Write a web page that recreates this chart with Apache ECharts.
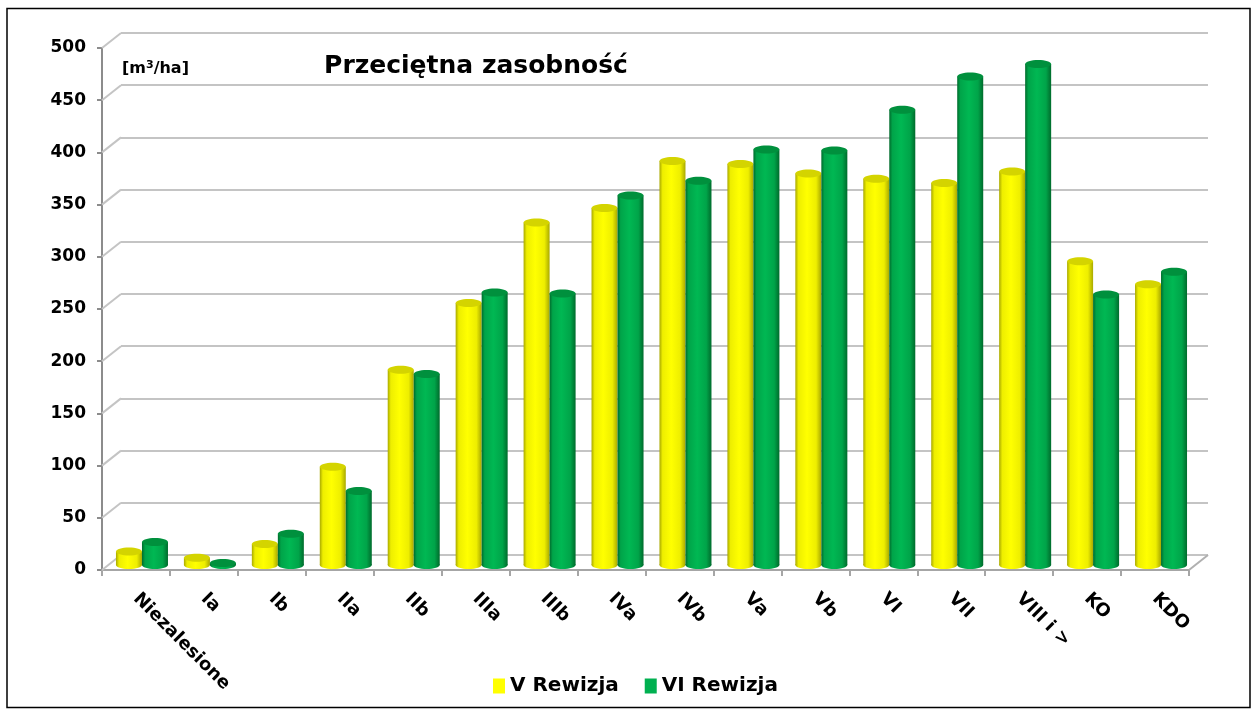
<!DOCTYPE html>
<html>
<head>
<meta charset="utf-8">
<script src="https://cdn.jsdelivr.net/npm/echarts@6/dist/echarts.min.js"></script>
<style>
  html, body { margin: 0; padding: 0; background: #fff; }
  #chart { width: 1256px; height: 717px; }
</style>
</head>
<body>
<div id="chart"></div>
<script>
// dane
const categories = ['Niezalesione', 'Ia', 'Ib', 'IIa', 'IIb', 'IIIa', 'IIIb', 'IVa', 'IVb', 'Va', 'Vb', 'VI', 'VII', 'VIII i >', 'KO', 'KDO']
const rewizjaV = [13, 7, 20, 94, 187, 251, 328, 342, 387, 384, 375, 370, 366, 377, 291, 269]
const rewizjaVI = [22, 2, 30, 71, 183, 261, 260, 354, 368, 398, 397, 436, 468, 480, 259, 281]
const yTicks = [0, 50, 100, 150, 200, 250, 300, 350, 400, 450, 500]

const FONT = 'DejaVu Sans'
// front plane of the 3D box
const front = { left: 102, top: 48, right: 1189, bottom: 570 }
// depth offset of the back wall
const depth = { dx: 19, dy: -15 }
// bars sit a bit inside the box
const barShift = { dx: 6, dy: -5 }
const barW = 26
const capH = 8

const chart = echarts.init(document.getElementById('chart'))

function gridAt(dx, dy) {
  return {
    left: front.left + dx,
    top: front.top + dy,
    width: front.right - front.left,
    height: front.bottom - front.top
  }
}

function cylinder(edge, mid, light) {
  return new echarts.graphic.LinearGradient(0, 0, 1, 0, [
    { offset: 0, color: edge },
    { offset: 0.12, color: mid },
    { offset: 0.45, color: light },
    { offset: 0.8, color: mid },
    { offset: 1, color: edge }
  ])
}

const yellowBody = cylinder('#a9a900', '#eeee00', '#ffff00')
const greenBody = cylinder('#006b2c', '#00a449', '#00b853')

function hiddenCat(gridIndex) {
  return {
    type: 'category', gridIndex, data: categories,
    axisLine: { show: false }, axisTick: { show: false }, axisLabel: { show: false }
  }
}
function hiddenVal(gridIndex, showSplit) {
  return {
    type: 'value', gridIndex, min: 0, max: 500, interval: 50,
    axisLine: { show: false }, axisTick: { show: false }, axisLabel: { show: false },
    splitLine: { show: showSplit, lineStyle: { color: '#c4c4c4', width: 2 } }
  }
}

// walec: korpus + dolna i górna elipsa
function cylinderSeries(name, values, side, body, topColor) {
  return {
    name, type: 'custom', xAxisIndex: 2, yAxisIndex: 2, z: 3,
    data: values.map((v, i) => [i, v]),
    renderItem(params, api) {
      const base = api.coord([api.value(0), 0])
      const top = api.coord([api.value(0), api.value(1)])
      const x = base[0] + (side < 0 ? -barW : 0)
      const rx = barW / 2, ry = capH / 2
      return {
        type: 'group',
        children: [
          {
            type: 'ellipse',
            shape: { cx: x + rx, cy: base[1], rx, ry },
            style: { fill: body }
          },
          {
            type: 'rect',
            shape: { x, y: top[1], width: barW, height: base[1] - top[1] },
            style: { fill: body }
          },
          {
            type: 'ellipse',
            shape: { cx: x + rx, cy: top[1], rx, ry },
            style: { fill: topColor }
          }
        ]
      }
    }
  }
}

const option = {
  animation: false,
  backgroundColor: '#fff',
  title: {
    text: 'Przeciętna zasobność',
    left: 471, top: 49, textAlign: 'center',
    textStyle: { fontFamily: FONT, fontSize: 25, fontWeight: 'bold', color: '#000' }
  },
  legend: {
    left: 488, top: 671,
    itemWidth: 12, itemHeight: 15, itemGap: 26,
    icon: 'rect',
    textStyle: { fontFamily: FONT, fontSize: 20, fontWeight: 'bold', color: '#000' },
    data: [
      { name: 'V Rewizja', itemStyle: { color: '#ffff00' } },
      { name: 'VI Rewizja', itemStyle: { color: '#00b050' } }
    ]
  },
  grid: [gridAt(0, 0), gridAt(depth.dx, depth.dy), gridAt(barShift.dx, barShift.dy)],
  xAxis: [
    {
      type: 'category', gridIndex: 0, data: categories,
      axisLine: { lineStyle: { color: '#a6a6a6', width: 2 } },
      axisTick: { show: true, length: 6, lineStyle: { color: '#a6a6a6', width: 2 } },
      axisLabel: {
        interval: 0, rotate: -45, margin: 26,
        fontFamily: FONT, fontSize: 18, fontWeight: 'bold', color: '#000'
      }
    },
    hiddenCat(1),
    hiddenCat(2)
  ],
  yAxis: [
    {
      type: 'value', gridIndex: 0, min: 0, max: 500, interval: 50,
      axisLine: { show: true, lineStyle: { color: '#8c8c8c', width: 2 } },
      axisTick: { show: true, length: 5, lineStyle: { color: '#8c8c8c', width: 2 } },
      axisLabel: { margin: 16, fontFamily: FONT, fontSize: 17, fontWeight: 'bold', color: '#000' },
      splitLine: { show: false }
    },
    hiddenVal(1, true),
    hiddenVal(2, false)
  ],
  series: [
    cylinderSeries('V Rewizja', rewizjaV, -1, yellowBody, '#d4d400'),
    cylinderSeries('VI Rewizja', rewizjaVI, 1, greenBody, '#00903d')
  ]
}

chart.setOption(option)

// linie ukośne łączące oś z tylną ścianą, prawa krawędź podłogi, ramka
const deco = []
yTicks.forEach(v => {
  const y = chart.convertToPixel({ yAxisIndex: 0 }, v)
  deco.push({
    type: 'line', silent: true, z: 1,
    shape: { x1: front.left, y1: y, x2: front.left + depth.dx, y2: y + depth.dy },
    style: { stroke: '#c4c4c4', lineWidth: 2 }
  })
})
const yZero = chart.convertToPixel({ yAxisIndex: 0 }, 0)
deco.push({
  type: 'line', silent: true, z: 1,
  shape: { x1: front.right, y1: yZero, x2: front.right + depth.dx, y2: yZero + depth.dy },
  style: { stroke: '#b0b0b0', lineWidth: 2 }
})
deco.push({
  type: 'text', left: 122, top: 60, silent: true,
  style: {
    text: '{a|[m}{s|3}{a|/ha]}',
    rich: {
      a: { fontFamily: FONT, fontSize: 16, fontWeight: 'bold', fill: '#000' },
      s: { fontFamily: FONT, fontSize: 11, fontWeight: 'bold', fill: '#000', verticalAlign: 'top', padding: [0, 0, 6, 0] }
    }
  }
})
deco.push({
  type: 'rect', silent: true, z: 10,
  shape: { x: 7, y: 8.5, width: 1243, height: 699 },
  style: { fill: null, stroke: '#000', lineWidth: 1.5 }
})
chart.setOption({ graphic: deco })
</script>
</body>
</html>
